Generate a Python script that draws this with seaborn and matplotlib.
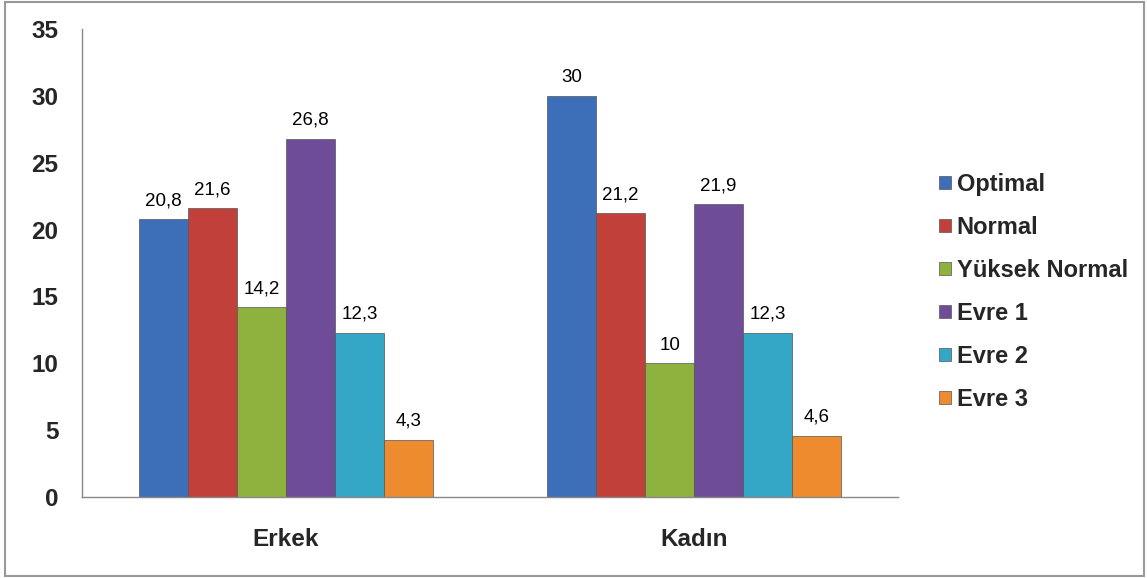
import matplotlib
matplotlib.use('Agg')
import matplotlib.pyplot as plt
import seaborn as sns
import pandas as pd
from matplotlib.patches import Rectangle

# chart data
groups = ["Erkek", "Kadın"]
stages = ["Optimal", "Normal", "Yüksek Normal", "Evre 1", "Evre 2", "Evre 3"]
erkek_vals = [20.8, 21.6, 14.2, 26.8, 12.3, 4.3]
kadin_vals = [30, 21.2, 10, 21.9, 12.3, 4.6]
y_ticks = [0, 5, 10, 15, 20, 25, 30, 35]

colors = ["#3C6FB8", "#C2403A", "#8FB23F", "#6E4C98", "#34A6C6", "#EE8B2E"]

rows = []
for g, vals in zip(groups, [erkek_vals, kadin_vals]):
    for s, v in zip(stages, vals):
        rows.append({"grup": g, "evre": s, "deger": v})
df = pd.DataFrame(rows)

sns.set_style("white")
plt.rcParams['font.family'] = ['Liberation Sans', 'DejaVu Sans']

fig = plt.figure(figsize=(11.47, 5.78), dpi=100)
ax = fig.add_axes([0.0715, 0.14, 0.7115, 0.81])

sns.barplot(data=df, x="grup", y="deger", hue="evre", order=groups,
            hue_order=stages, palette=colors, width=0.72, gap=0,
            saturation=1, edgecolor="#555555", linewidth=0.5, ax=ax)

# value labels with decimal comma
for cont, s in zip(ax.containers, stages):
    labs = [f"{v:g}".replace('.', ',') for v in df[df.evre == s].deger]
    ax.bar_label(cont, labels=labs, padding=7, fontsize=13.5, color="black")

ax.set_ylim(0, 35)
ax.set_xlim(-0.5, 1.5)
ax.set_yticks(y_ticks)
ax.set_yticklabels([str(t) for t in y_ticks], fontsize=17.5, fontweight='bold')
ax.set_xticks([0, 1])
ax.set_xticklabels(groups, fontsize=17.5, fontweight='bold')
ax.tick_params(axis='x', length=0, pad=22)
ax.tick_params(axis='y', direction='out', length=5, color='#888888', pad=12, width=1)
ax.set_xticks([-0.5, 0.5, 1.5], minor=True)
ax.tick_params(axis='x', which='minor', direction='out', length=5, color='#888888')
ax.set_xlabel("")
ax.set_ylabel("")
for side in ["top", "right"]:
    ax.spines[side].set_visible(False)
for side in ["left", "bottom"]:
    ax.spines[side].set_color("#888888")
    ax.spines[side].set_linewidth(1)

handles, labels = ax.get_legend_handles_labels()
ax.legend_.remove()
fig.legend(handles, labels, loc='center left', bbox_to_anchor=(0.8, 0.495),
           frameon=False, prop={'size': 17, 'weight': 'bold'},
           handlelength=0.5, handleheight=0.5, handletextpad=0.25,
           labelspacing=0.85)

# outer frame
fig.patches.append(Rectangle((0.004, 0.003), 0.993, 0.994, transform=fig.transFigure,
                             fill=False, edgecolor="#999999", linewidth=1.5))

fig.savefig("out.png", dpi=100)
plt.close(fig)
